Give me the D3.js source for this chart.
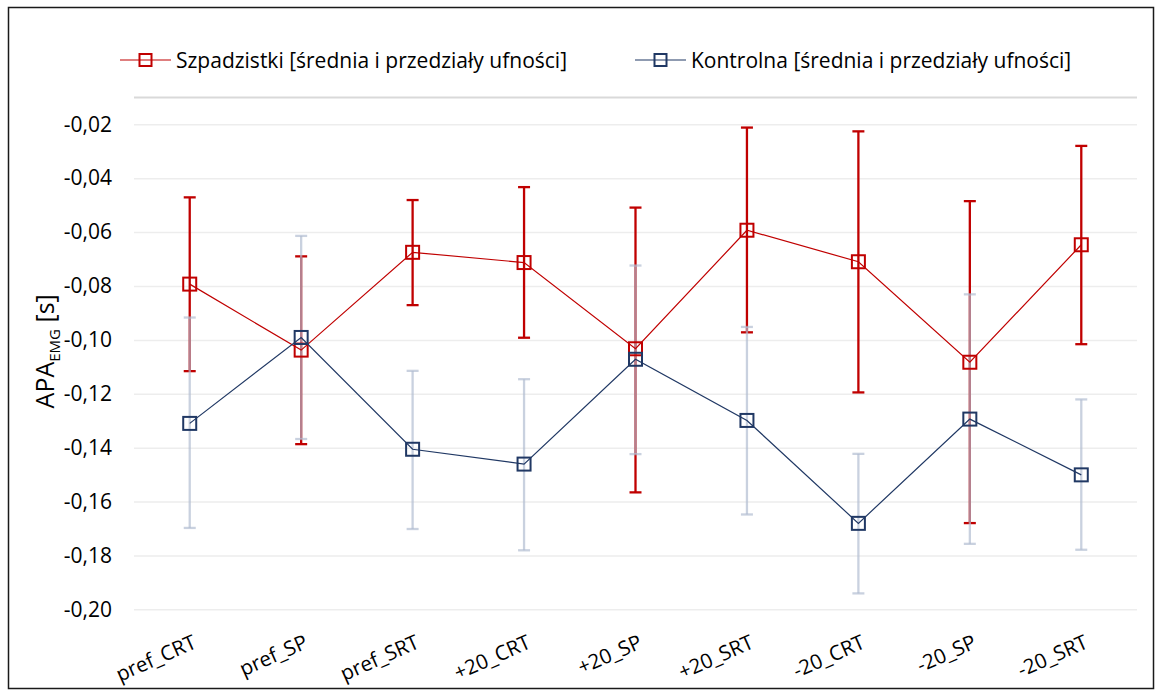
<!DOCTYPE html>
<html>
<head>
<meta charset="utf-8">
<script src="https://cdn.jsdelivr.net/npm/d3@7"></script>
<style>
  html, body { margin: 0; padding: 0; background: #fff; }
  svg { display: block; }
  text { font-family: "Open Sans", "Noto Sans", sans-serif; fill: #000; }
</style>
</head>
<body>
<svg id="chart" width="1156" height="691"></svg>
<script>
// Conditions on the horizontal axis
const categories = ["pref_CRT", "pref_SP", "pref_SRT", "+20_CRT", "+20_SP", "+20_SRT", "-20_CRT", "-20_SP", "-20_SRT"];

// Szpadzistki: mean and confidence interval bounds [s]
const szpMean  = [-0.0793, -0.1038, -0.0675, -0.0713, -0.1033, -0.0593, -0.0710, -0.1083, -0.0647];
const szpUpper = [-0.0471, -0.0690, -0.0481, -0.0433, -0.0509, -0.0212, -0.0226, -0.0485, -0.0280];
const szpLower = [-0.1116, -0.1387, -0.0871, -0.0992, -0.1566, -0.0972, -0.1195, -0.1680, -0.1016];

// Kontrolna: mean and confidence interval bounds [s]
const konMean  = [-0.1310, -0.0991, -0.1406, -0.1461, -0.1072, -0.1299, -0.1681, -0.1294, -0.1501];
const konUpper = [-0.0917, -0.0614, -0.1115, -0.1146, -0.0724, -0.0952, -0.1423, -0.0831, -0.1221];
const konLower = [-0.1698, -0.1368, -0.1702, -0.1781, -0.1424, -0.1648, -0.1941, -0.1757, -0.1779];

// Value axis
const yTicks = [-0.20, -0.18, -0.16, -0.14, -0.12, -0.10, -0.08, -0.06, -0.04, -0.02];
const yMin = -0.20, yMax = -0.01;

const legendLabels = ["Szpadzistki [średnia i przedziały ufności]", "Kontrolna [średnia i przedziały ufności]"];

const RED = "#C00000";
const NAVY = "#203864";
const NAVY_BAR = "rgba(176,187,208,0.68)";

const svg = d3.select("#chart");

// outer frame
svg.append("rect")
  .attr("x", 8.5).attr("y", 7.5).attr("width", 1145).attr("height", 681)
  .attr("fill", "none").attr("stroke", "#1a1a1a").attr("stroke-width", 1.5);

const plot = { left: 134, right: 1137, top: 97.4, bottom: 609.3 };

const x = d3.scaleBand().domain(categories).range([plot.left, plot.right]).padding(0);
const cx = d => x(d) + x.bandwidth() / 2;
const y = d3.scaleLinear().domain([yMin, yMax]).range([plot.bottom, plot.top]);

const fmt = v => d3.format(".2f")(v).replace("−", "-").replace(".", ",");

// horizontal gridlines and tick labels
const yAxis = d3.axisLeft(y)
  .tickValues(yTicks)
  .tickSize(-(plot.right - plot.left))
  .tickFormat(fmt)
  .tickPadding(22);

const gy = svg.append("g").attr("transform", `translate(${plot.left},0)`).call(yAxis);
gy.select(".domain").remove();
gy.selectAll(".tick line").attr("stroke", "#EDEDED").attr("stroke-width", 1.5);
gy.selectAll(".tick text")
  .attr("font-size", 21)
  .attr("fill", "#000")
  .style("font-family", '"Open Sans", sans-serif');

// category axis line along the top of the plot (at the maximum value)
svg.append("line")
  .attr("x1", plot.left).attr("x2", plot.right)
  .attr("y1", y(yMax)).attr("y2", y(yMax))
  .attr("stroke", "#D9D9D9").attr("stroke-width", 2);

// category labels, rotated, placed below the plot
const xAxis = d3.axisBottom(x).tickSize(0).tickPadding(0);
const gx = svg.append("g").attr("transform", `translate(0,${plot.bottom})`).call(xAxis);
gx.select(".domain").remove();
gx.selectAll(".tick text")
  .attr("font-size", 20.5)
  .attr("text-anchor", "end")
  .attr("dy", 0)
  .attr("transform", "translate(8,38) rotate(-24)")
  .attr("fill", "#000");

// y axis title with subscript
const title = svg.append("text")
  .attr("transform", `translate(54,${(plot.top + plot.bottom) / 2 - 2}) rotate(-90)`)
  .attr("text-anchor", "middle")
  .attr("font-size", 25);
title.append("tspan").text("APA");
title.append("tspan").attr("font-size", 15).attr("dy", 6).text("EMG");
title.append("tspan").attr("dy", -6).text(" [s]");

// series definitions
const series = [
  { name: legendLabels[0], mean: szpMean, lo: szpLower, hi: szpUpper, color: RED, bar: RED },
  { name: legendLabels[1], mean: konMean, lo: konLower, hi: konUpper, color: NAVY, bar: NAVY_BAR }
];

const capW = 12;

// error bars
series.forEach(s => {
  const g = svg.append("g");
  categories.forEach((c, i) => {
    const px = cx(c);
    g.append("line").attr("x1", px).attr("x2", px)
      .attr("y1", y(s.hi[i])).attr("y2", y(s.lo[i]))
      .attr("stroke", s.bar).attr("stroke-width", 2.3);
    [s.hi[i], s.lo[i]].forEach(v => {
      g.append("line").attr("x1", px - capW / 2).attr("x2", px + capW / 2)
        .attr("y1", y(v)).attr("y2", y(v))
        .attr("stroke", s.bar).attr("stroke-width", 2.3);
    });
  });
});

// mean lines and square markers
const line = d3.line().x((d, i) => cx(categories[i])).y(d => y(d));
const mk = 13;
series.forEach(s => {
  svg.append("path").datum(s.mean)
    .attr("d", line).attr("fill", "none")
    .attr("stroke", s.color).attr("stroke-width", 1.2);
  svg.append("g").selectAll("rect").data(s.mean).join("rect")
    .attr("x", (d, i) => cx(categories[i]) - mk / 2)
    .attr("y", d => y(d) - mk / 2)
    .attr("width", mk).attr("height", mk)
    .attr("fill", "none").attr("stroke", s.color).attr("stroke-width", 2);
});

// legend
const legendPos = [{ x: 120, y: 60 }, { x: 635, y: 60 }];
series.forEach((s, i) => {
  const lg = svg.append("g").attr("transform", `translate(${legendPos[i].x},${legendPos[i].y})`);
  lg.append("line").attr("x1", 0).attr("x2", 51).attr("y1", 0).attr("y2", 0)
    .attr("stroke", s.color).attr("stroke-width", 1.2);
  lg.append("rect").attr("x", 25.5 - 6).attr("y", -6).attr("width", 12).attr("height", 12)
    .attr("fill", "none").attr("stroke", s.color).attr("stroke-width", 2);
  lg.append("text").attr("x", 56).attr("y", 7.5).attr("font-size", 21).text(s.name);
});
</script>
</body>
</html>
